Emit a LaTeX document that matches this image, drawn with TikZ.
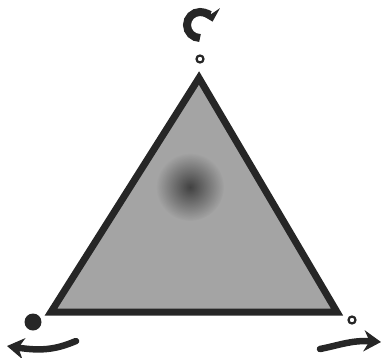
\documentclass[tikz,border=0pt]{standalone}
\usepackage{tikz}
\usepackage{xcolor}
\usetikzlibrary{arrows.meta,fadings}

\definecolor{rimgray}{HTML}{262626}
\definecolor{facegray}{HTML}{A4A4A4}
\tikzfading[name=softspot, inner color=transparent!0, outer color=transparent!100]

\begin{document}
\begin{tikzpicture}[x=1pt,y=1pt]
  \useasboundingbox (0,0) rectangle (382,357);

  % triangle with shaded face
  \fill[facegray] (199,279) -- (51,45) -- (337,45) -- cycle;
  \fill[black, opacity=0.6, path fading=softspot] (190,170) circle (34);
  \draw[rimgray, line width=7pt, line join=miter] (199,279) -- (51,45) -- (337,45) -- cycle;

  % pivots at the corners
  \draw[rimgray, line width=2.2pt] (200,298) circle (3.5);
  \fill[black!85] (33,35) circle (8.5);
  \draw[rimgray, line width=2.2pt] (352,37) circle (3.5);

  % turning arrow on top
  \draw[black!85, line width=8pt, -{Stealth[length=11pt,width=21pt]}]
    (200,319) arc[start angle=270, end angle=15, radius=13];

  % sliding arrows below
  \draw[black!85, line width=6.5pt, line cap=round, -{Stealth[length=17pt,width=21pt]}]
    (76,16) .. controls (55,7) and (40,6) .. (7,11);
  \draw[black!85, line width=6.5pt, line cap=round, -{Stealth[length=17pt,width=21pt]}]
    (320,8) .. controls (340,12) and (352,17) .. (381,15);
\end{tikzpicture}
\end{document}
